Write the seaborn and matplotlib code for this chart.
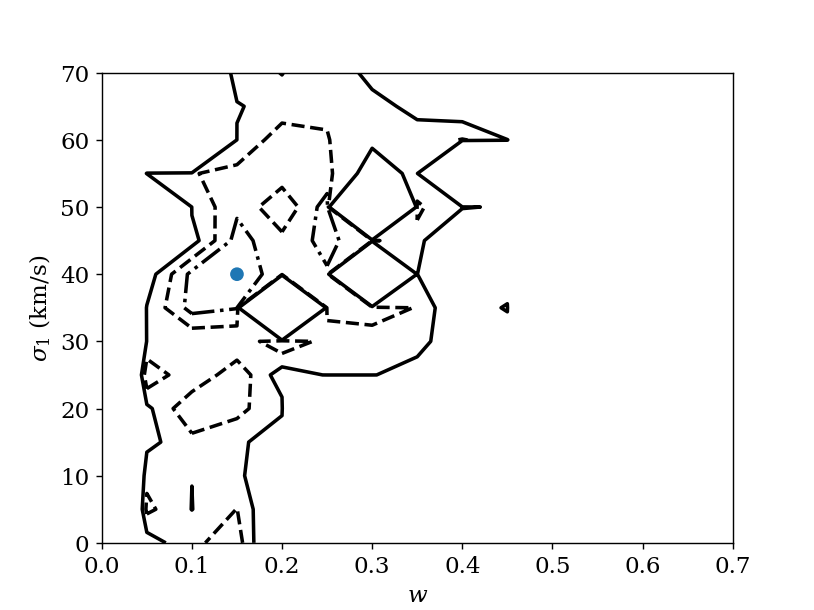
import numpy as np
import matplotlib
matplotlib.use("Agg")
import matplotlib.pyplot as plt
import seaborn as sns

plt.rcParams['font.family'] = ['DejaVu Serif']
plt.rcParams['mathtext.fontset'] = 'dejavuserif'
plt.rcParams['font.size'] = 13

# grid of the parameter scan
w_values = [0.00, 0.05, 0.10, 0.15, 0.20, 0.25, 0.30, 0.35, 0.40, 0.45, 0.50, 0.55, 0.60, 0.65, 0.70]
sigma_values = [0, 5, 10, 15, 20, 25, 30, 35, 40, 45, 50, 55, 60, 65, 70]
V = -50.0  # failed grid points
# score on the grid: one row per sigma value (0 .. 70), one column per w value (0 .. 0.7)
score_s00 = [0, 0.43, 1.787, 2.5, -1.5, 0, 0, 0, 0, 0, 0, 0, 0, 0, 0]
score_s05 = [-10, 2.255, 0.98, 2.02, -0.81, 0, 0, 0, 0, 0, 0, 0, 0, 0, 0]
score_s10 = [-10, 1.713, 1.009, 1.3, -0.465, 0, 0, 0, 0, 0, 0, 0, 0, 0, 0]
score_s15 = [0, 0.694, 1.68, 1.405, -0.153, 0, 0, 0, 0, 0, 0, 0, 0, 0, 0]
score_s20 = [0, 0.74, 2.9, 2.255, 1.31, V, V, 0, 0, 0, 0, 0, 0, 0, 0]
score_s25 = [-12.7, 2.865, 1.1, 2.71, 0.4, 1.067, 1.066, 0.413, 0, 0, 0, 0, 0, 0, 0]
score_s30 = [-10, 1.05, 1.1, 1.1, 2.9, 1.576, 1.17, 1.5, -0.167, -0.6, 0, 0, 0, 0, 0]
score_s35 = [-5, 1.05, 3.4, 3.05, V, 2.26, 2.9, 1.9, -0.35, 1.22, V, 0, 0, 0, 0]
score_s40 = [-2, 0.429, 3.286, 3.6, 2.53, 2.885, V, 1.3, V, -0.6, 0, 0, 0, 0, 0]
score_s45 = [-2, -2, 0.545, 3.39, 2.297, 3.346, 2.05, 1.76, -3, 0, 0, 0, 0, 0, 0]
score_s50 = [-2, V, 1.15, 2.8, 1.156, 3.52, V, 2.15, 1.2, 0.7, 0, 0, 0, 0, 0]
score_s55 = [V, 1.5, 1.938, 2.323, 2.6, 2.22, 0.4, 1.3, V, V, 0, 0, 0, 0, 0]
score_s60 = [-2, V, V, 1.08, 2.58, 2.05, 1.2, 1.5, 2.05, 1.55, V, 0, 0, 0, 0]
score_s65 = [-2, -2, -2, 0.92, 1.42, 1.88, 1.39, 0.667, 0.106, V, 0, 0, 0, 0, 0]
score_s70 = [-2, -2, -2, 1.5, 0.97, 1.9, 0.61, 0, 0, 0, 0, 0, 0, 0, 0]
levels = [1.0, 2.0, 3.0]
level_styles = ['solid', 'dashed', 'dashdot']
best_w = [0.15]
best_sigma = [40]

score = np.array([score_s00, score_s05, score_s10, score_s15, score_s20, score_s25,
                  score_s30, score_s35, score_s40, score_s45, score_s50, score_s55,
                  score_s60, score_s65, score_s70])
W, S = np.meshgrid(w_values, sigma_values)

fig, ax = plt.subplots(figsize=(6.4, 4.8), dpi=127.2)
ax.contour(W, S, score, levels=levels, colors='k', linestyles=level_styles, linewidths=2)
sns.scatterplot(x=best_w, y=best_sigma, ax=ax, color='C0', s=60, edgecolor='none', zorder=5)

ax.set_xlim(0, 0.7)
ax.set_ylim(0, 70)
ax.set_xticks(np.arange(0, 0.71, 0.1))
ax.set_yticks(np.arange(0, 71, 10))
ax.set_xlabel(r'$w$')
ax.set_ylabel(r'$\sigma_1$ (km/s)')

fig.savefig('out.png', dpi=127.2)
